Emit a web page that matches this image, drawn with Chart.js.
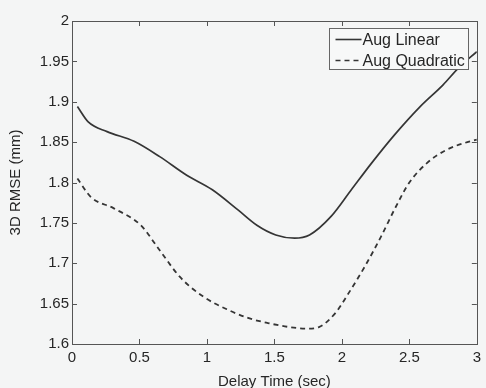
<!DOCTYPE html>
<html>
<head>
<meta charset="utf-8">
<script src="https://cdn.jsdelivr.net/npm/chart.js@4.4.1/dist/chart.umd.min.js"></script>
<style>
html,body{margin:0;padding:0;background:#f4f5f5;}
#wrap{width:486px;height:388px;}
</style>
</head>
<body>
<div id="wrap"><canvas id="c" width="486" height="388"></canvas></div>
<script>
const seriesNames = ["Aug Linear", "Aug Quadratic"];
const linearX = [0.04,0.12,0.26,0.46,0.65,0.85,1.04,1.23,1.37,1.51,1.65,1.76,1.92,2.07,2.22,2.39,2.58,2.75,2.87,3.0];
const linearY = [1.894,1.875,1.863,1.851,1.832,1.809,1.791,1.766,1.747,1.735,1.731,1.735,1.758,1.791,1.824,1.859,1.894,1.921,1.943,1.962];
const quadX = [0.04,0.14,0.31,0.51,0.65,0.80,0.97,1.16,1.31,1.45,1.61,1.74,1.83,1.95,2.05,2.17,2.29,2.40,2.50,2.63,2.77,2.95,3.0];
const quadY = [1.805,1.782,1.768,1.747,1.716,1.683,1.659,1.642,1.632,1.626,1.621,1.619,1.621,1.638,1.663,1.696,1.733,1.770,1.800,1.824,1.840,1.851,1.853];
const xTicks = [0,0.5,1,1.5,2,2.5,3];
const xTickLabels = ["0","0.5","1","1.5","2","2.5","3"];
const yTicks = [1.6,1.65,1.7,1.75,1.8,1.85,1.9,1.95,2];
const yTickLabels = ["1.6","1.65","1.7","1.75","1.8","1.85","1.9","1.95","2"];
const xTitle = "Delay Time (sec)";
const yTitle = "3D RMSE (mm)";

const FONT = "'Liberation Sans', Arial, Helvetica, sans-serif";
const TXT = "#262626";
const AX = "#555";
const LINE = "#353535";

const toPts = (xs, ys) => xs.map((x, i) => ({x, y: ys[i]}));

const framePlugin = {
  id: 'frame',
  beforeDraw(chart) {
    const ctx = chart.ctx;
    ctx.save();
    ctx.fillStyle = '#f4f5f5';
    ctx.fillRect(0, 0, chart.width, chart.height);
    ctx.restore();
  },
  afterDatasetsDraw(chart) {
    const {ctx, chartArea: a, scales} = chart;
    ctx.save();
    ctx.strokeStyle = AX;
    ctx.lineWidth = 1;
    ctx.strokeRect(Math.round(a.left) + 0.5, Math.round(a.top) + 0.5, Math.round(a.right - a.left), Math.round(a.bottom - a.top));
    const tl = 5;
    ctx.beginPath();
    xTicks.forEach(v => {
      const px = Math.round(scales.x.getPixelForValue(v)) + 0.5;
      ctx.moveTo(px, a.bottom); ctx.lineTo(px, a.bottom - tl);
      ctx.moveTo(px, a.top); ctx.lineTo(px, a.top + tl);
    });
    yTicks.forEach(v => {
      const py = Math.round(scales.y.getPixelForValue(v)) + 0.5;
      ctx.moveTo(a.left, py); ctx.lineTo(a.left + tl, py);
      ctx.moveTo(a.right, py); ctx.lineTo(a.right - tl, py);
    });
    ctx.stroke();

    // legend box
    const bw = 139, bh = 41;
    const bx = Math.round(a.right - 9 - bw) + 0.5;
    const by = Math.round(a.top + 7) + 0.5;
    ctx.fillStyle = '#f7f8f8';
    ctx.fillRect(bx, by, bw, bh);
    ctx.strokeStyle = '#666';
    ctx.strokeRect(bx, by, bw, bh);
    ctx.font = "16px " + FONT;
    ctx.textBaseline = 'middle';
    ctx.fillStyle = TXT;
    chart.data.datasets.forEach((ds, i) => {
      const cy = by + 11 + i * 21;
      ctx.strokeStyle = LINE;
      ctx.lineWidth = 1.6;
      ctx.setLineDash(ds.borderDash || []);
      ctx.beginPath();
      ctx.moveTo(bx + 6, cy); ctx.lineTo(bx + 32, cy);
      ctx.stroke();
      ctx.setLineDash([]);
      ctx.fillText(ds.label, bx + 33, cy + 1);
    });
    ctx.restore();
  }
};

new Chart(document.getElementById('c'), {
  type: 'scatter',
  data: {
    datasets: [
      {label: seriesNames[0], data: toPts(linearX, linearY), showLine: true, borderColor: LINE, borderWidth: 1.7, pointRadius: 0, tension: 0.4, cubicInterpolationMode: 'monotone', fill: false},
      {label: seriesNames[1], data: toPts(quadX, quadY), showLine: true, borderColor: LINE, borderWidth: 1.8, borderDash: [5,4], pointRadius: 0, tension: 0.4, cubicInterpolationMode: 'monotone', fill: false}
    ]
  },
  options: {
    responsive: false,
    animation: false,
    events: [],
    layout: {padding: {left: 0, right: 3, top: 21, bottom: 0}},
    plugins: {legend: {display: false}, tooltip: {enabled: false}},
    scales: {
      x: {
        type: 'linear', min: 0, max: 3,
        afterBuildTicks: s => { s.ticks = xTicks.map(v => ({value: v})); },
        afterFit: s => { s.height = 44; },
        grid: {display: false, drawTicks: false, tickLength: 0},
        border: {display: false},
        ticks: {padding: 5, color: TXT, font: {family: FONT, size: 15}, maxRotation: 0, autoSkip: false,
          callback: (v) => xTickLabels[xTicks.indexOf(v)]},
        title: {display: true, text: xTitle, color: TXT, font: {family: FONT, size: 15, lineHeight: 0.8}, padding: {top: 0, bottom: 0}}
      },
      y: {
        type: 'linear', min: 1.6, max: 2,
        afterBuildTicks: s => { s.ticks = yTicks.map(v => ({value: v})); },
        afterFit: s => { s.width = 72; },
        grid: {display: false, drawTicks: false, tickLength: 0},
        border: {display: false},
        ticks: {padding: 3, color: TXT, font: {family: FONT, size: 15}, autoSkip: false,
          callback: (v) => yTickLabels[yTicks.findIndex(t => Math.abs(t - v) < 1e-9)]},
        title: {display: true, text: yTitle, color: TXT, font: {family: FONT, size: 15, lineHeight: 0.8}, padding: {top: 10, bottom: 0}}
      }
    }
  },
  plugins: [framePlugin]
});
</script>
</body>
</html>
